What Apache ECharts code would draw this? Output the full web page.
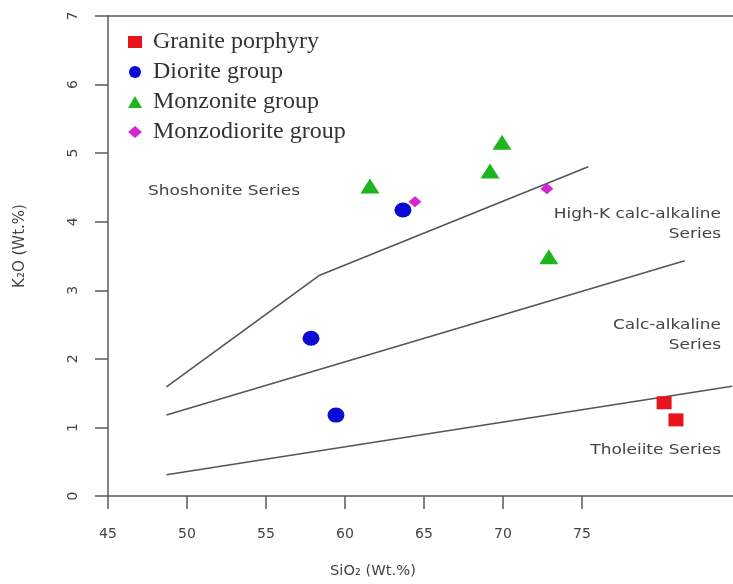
<!DOCTYPE html>
<html>
<head>
<meta charset="utf-8">
<script src="https://cdn.jsdelivr.net/npm/echarts@6/dist/echarts.min.js"></script>
<style>html,body{margin:0;padding:0;background:#fff;}#c{width:733px;height:584px;}</style>
</head>
<body>
<div id="c"></div>
<script>
// ---- data (SiO2, K2O) ----
const xTicks = [45, 50, 55, 60, 65, 70, 75];
const yTicks = [0, 1, 2, 3, 4, 5, 6, 7];
const granitePorphyry = [[80.2, 1.36], [80.95, 1.11]];
const dioriteGroup = [[63.67, 4.17], [57.85, 2.30], [59.43, 1.18]];
const monzoniteGroup = [[61.58, 4.52], [69.94, 5.16], [69.18, 4.74], [72.9, 3.49]];
const monzodioriteGroup = [[64.43, 4.29], [72.78, 4.48]];
// boundary lines
const shoshoniteBoundary = [[48.7, 1.59], [58.4, 3.22], [75.4, 4.8]];
const highKBoundary = [[48.7, 1.18], [81.5, 3.43]];
const calcAlkalineBoundary = [[48.7, 0.31], [84.5, 1.60]];
// annotation labels
const seriesLabels = ['Shoshonite Series', 'High-K calc-alkaline\nSeries', 'Calc-alkaline\nSeries', 'Tholeiite Series'];

const chart = echarts.init(document.getElementById('c'));
const axisCol = '#5a5a5a';
const txtCol = '#444';
const sans = 'DejaVu Sans';
const serif = 'Liberation Serif';

function lineSeries(d) {
  return { type: 'line', data: d, symbol: 'none', silent: true,
    lineStyle: { color: '#555', width: 1.6 }, z: 1 };
}
function note(text, x, y, align) {
  return { type: 'text', x: x, y: y, scaleX: 1.17,
    style: { text: text, fill: txtCol, font: '14.5px ' + sans, align: align, verticalAlign: 'top', lineHeight: 20 } };
}

chart.setOption({
  animation: false,
  backgroundColor: '#fff',
  grid: { left: 108, top: 16, right: 0, bottom: 88, show: false },
  xAxis: [{
    type: 'value', min: 45, max: 84.56, interval: 5,
    axisLine: { show: true, lineStyle: { color: axisCol, width: 1.5 } },
    axisTick: { show: true, length: 13, lineStyle: { color: axisCol, width: 1.5 }, customValues: xTicks },
    axisLabel: { color: txtCol, fontFamily: sans, fontSize: 14, margin: 31, customValues: xTicks },
    splitLine: { show: false }
  }, {
    type: 'value', position: 'top', min: 45, max: 84.56,
    axisLine: { show: true, lineStyle: { color: axisCol, width: 1.5 } },
    axisTick: { show: false }, axisLabel: { show: false }, splitLine: { show: false }
  }],
  yAxis: {
    type: 'value', min: 0, max: 7, interval: 1,
    axisLine: { show: true, lineStyle: { color: axisCol, width: 1.5 } },
    axisTick: { show: true, length: 13, lineStyle: { color: axisCol, width: 1.5 }, customValues: yTicks },
    axisLabel: { color: txtCol, fontFamily: sans, fontSize: 14, margin: 28, rotate: 90, customValues: yTicks },
    splitLine: { show: false }
  },
  legend: {
    orient: 'vertical', left: 128, top: 30, padding: 0, itemGap: 6, itemWidth: 14, itemHeight: 12,
    textStyle: { fontFamily: serif, fontSize: 24, color: '#333', padding: [0, 0, 0, 6] },
    data: [
      { name: 'Granite porphyry', icon: 'rect' },
      { name: 'Diorite group', icon: 'circle' },
      { name: 'Monzonite group', icon: 'triangle' },
      { name: 'Monzodiorite group', icon: 'diamond' }
    ]
  },
  series: [
    lineSeries(shoshoniteBoundary),
    lineSeries(highKBoundary),
    lineSeries(calcAlkalineBoundary),
    { name: 'Granite porphyry', type: 'scatter', data: granitePorphyry, symbol: 'rect', symbolSize: [15, 13],
      itemStyle: { color: '#e8141c', opacity: 1 }, z: 3 },
    { name: 'Diorite group', type: 'scatter', data: dioriteGroup, symbol: 'circle', symbolSize: [17, 15],
      itemStyle: { color: '#0a0ad2', opacity: 1 }, z: 3 },
    { name: 'Monzonite group', type: 'scatter', data: monzoniteGroup, symbol: 'triangle', symbolSize: [19, 15],
      itemStyle: { color: '#1eb41e', opacity: 1 }, z: 3 },
    { name: 'Monzodiorite group', type: 'scatter', data: monzodioriteGroup, symbol: 'diamond', symbolSize: [13, 11],
      itemStyle: { color: '#d424d4', opacity: 1 }, z: 3 }
  ],
  graphic: [
    note(seriesLabels[0], 148, 181, 'left'),
    note(seriesLabels[1], 721, 204, 'right'),
    note(seriesLabels[2], 721, 315, 'right'),
    note(seriesLabels[3], 721, 440, 'right'),
    { type: 'text', x: 373, y: 571, scaleX: 1.05, style: { text: 'SiO\u2082 (Wt.%)', fill: txtCol, font: '14px ' + sans, align: 'center', verticalAlign: 'middle' } },
    { type: 'text', x: 20, y: 246, rotation: Math.PI / 2, style: { text: 'K\u2082O (Wt.%)', fill: txtCol, font: '15px ' + sans, align: 'center', verticalAlign: 'middle' } }
  ]
});
</script>
</body>
</html>
